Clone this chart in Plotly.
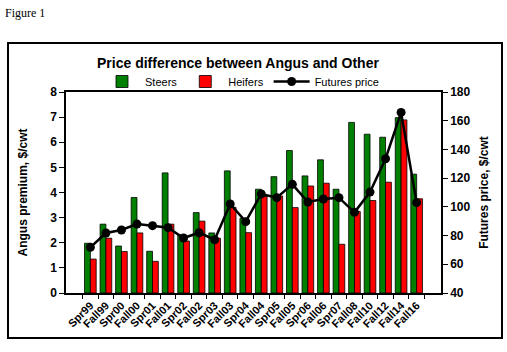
import plotly.graph_objects as go

categories = ["Spr99", "Fall99", "Spr00", "Fall00", "Spr01", "Fall01", "Spr02", "Fall02",
              "Spr03", "Fall03", "Spr04", "Fall04", "Spr05", "Fall05", "Spr06", "Fall06",
              "Spr07", "Fall08", "Fall10", "Fall12", "Fall14", "Fall16"]
steers = [1.98, 2.74, 1.87, 3.80, 1.66, 4.78, 2.31, 3.20, 2.39, 4.86, 2.97, 4.13,
          4.63, 5.67, 4.66, 5.30, 4.13, 6.79, 6.32, 6.20, 6.98, 4.73]
heifers = [1.35, 2.18, 1.65, 2.39, 1.26, 2.74, 2.07, 2.86, 2.18, 3.41, 2.40, 3.84,
           3.86, 3.40, 4.26, 4.37, 1.94, 3.24, 3.68, 4.41, 6.89, 3.75]
futures = [71.8, 81.8, 83.9, 88.0, 86.9, 85.5, 78.3, 82.0, 77.1, 102.0, 89.7, 109.0,
           106.4, 115.7, 103.4, 105.5, 106.4, 96.2, 110.3, 133.5, 165.8, 102.9]

FONT = "Arial, Liberation Sans, sans-serif"

fig = go.Figure()
fig.add_trace(go.Bar(x=categories, y=steers, name="Steers",
                     marker=dict(color="#008000", line=dict(color="black", width=0.8))))
fig.add_trace(go.Bar(x=categories, y=heifers, name="Heifers",
                     marker=dict(color="#FF0000", line=dict(color="black", width=0.8))))
fig.add_trace(go.Scatter(x=categories, y=futures, name="Futures price", yaxis="y2",
                         mode="lines+markers",
                         line=dict(color="black", width=2.5),
                         marker=dict(color="black", size=9)))

# plot area in pixels: x 66..441, y 92..293
L, R, T, B = 66, 441, 92, 293
W, H = R - L, B - T
def px(x):
    return (x - L) / W
def py(y):
    return (B - y) / H

fig.update_layout(
    width=507, height=352,
    margin=dict(l=L, r=507 - R, t=T, b=352 - B, pad=0),
    paper_bgcolor="white", plot_bgcolor="white",
    font=dict(family=FONT, size=12, color="black"),
    barmode="group", bargap=0.25, bargroupgap=0,
    showlegend=True,
    legend=dict(orientation="h", x=px(99), y=py(81.5), xanchor="left", yanchor="middle",
                font=dict(family=FONT, size=11, color="black"),
                bgcolor="rgba(0,0,0,0)", traceorder="normal", itemwidth=36),
    xaxis=dict(type="category", showline=True, linecolor="black", linewidth=1.5,
               mirror=True, ticks="outside", ticklen=4, tickcolor="black",
               tickson="boundaries", tickangle=-45,
               tickfont=dict(family=FONT, size=11, color="black", weight="bold"),
               showgrid=False),
    yaxis=dict(range=[0, 8], dtick=1, showline=True, linecolor="black", linewidth=1.5,
               mirror=True, ticks="outside", ticklen=5, tickcolor="black",
               showgrid=False, zeroline=False,
               tickfont=dict(family=FONT, size=12, color="black", weight="bold"),
               title=dict(text="Angus premium, $/cwt", standoff=20,
                          font=dict(family=FONT, size=12, color="black", weight="bold"))),
    yaxis2=dict(range=[40, 180], dtick=20, overlaying="y", side="right",
                showline=True, linecolor="black", linewidth=1.5,
                ticks="outside", ticklen=5, tickcolor="black",
                showgrid=False, zeroline=False,
                tickfont=dict(family=FONT, size=12, color="black", weight="bold"),
                title=dict(text="Futures price, $/cwt", standoff=10,
                           font=dict(family=FONT, size=12, color="black", weight="bold"))),
)

fig.add_annotation(text="<b>Price difference between Angus and Other</b>",
                   xref="paper", yref="paper", x=px(237.5), y=py(63),
                   xanchor="center", yanchor="middle", showarrow=False,
                   font=dict(family=FONT, size=14, color="black"))
fig.add_annotation(text="Figure 1", xref="paper", yref="paper",
                   x=px(3), y=py(13), xanchor="left", yanchor="middle", showarrow=False,
                   font=dict(family="Liberation Serif, serif", size=12, color="black"))
fig.add_shape(type="rect", xref="paper", yref="paper",
              x0=px(8), x1=px(502), y0=py(338), y1=py(43),
              line=dict(color="black", width=2), fillcolor="rgba(0,0,0,0)", layer="below")

fig.write_html("out.html")
